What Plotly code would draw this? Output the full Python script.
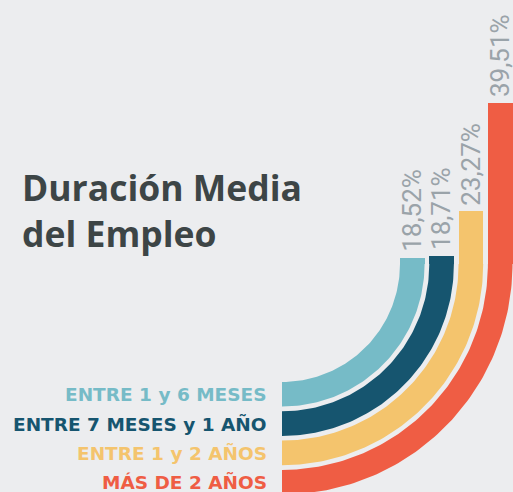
import numpy as np
import plotly.graph_objects as go

# ---- data ----
categories = ["ENTRE 1 y 6 MESES", "ENTRE 7 MESES y 1 AÑO", "ENTRE 1 y 2 AÑOS", "MÁS DE 2 AÑOS"]
values = [18.52, 18.71, 23.27, 39.51]
value_labels = ["18,52%", "18,71%", "23,27%", "39,51%"]
title_lines = ["Duración Media", "del Empleo"]

# ---- style / geometry ----
colors = ["#76BBC7", "#16556F", "#F4C46D", "#EF5D44"]
BG = "#ECEDEF"
W, H = 513, 492
CX, CY = 282.0, 264.0        # centre of the quarter arcs (pixels)
R0, STEP, BW = 118.0, 29.3, 24.6
BASE = 17.98                 # value at which the straight part starts
PX_PER_DECADE = 470.0        # log value axis scale
lb = np.log10(BASE)
y2_range = [lb - (H - CY) / PX_PER_DECADE, lb + CY / PX_PER_DECADE]

fig = go.Figure()

theta = np.linspace(np.pi / 2, 0, 90)  # from bottom (y down) to right
for i, (cat, col) in enumerate(zip(categories, colors)):
    r_in = R0 + STEP * i
    r_out = r_in + BW
    xs = np.concatenate([CX + r_out * np.cos(theta), CX + r_in * np.cos(theta[::-1])])
    ys = np.concatenate([CY + r_out * np.sin(theta), CY + r_in * np.sin(theta[::-1])])
    fig.add_trace(go.Scatter(x=xs, y=ys, mode="lines", fill="toself", fillcolor=col,
                             line=dict(width=0, color=col), hoverinfo="skip",
                             showlegend=False, xaxis="x", yaxis="y"))

# straight vertical parts as bars on a value axis
bar_x = [CX + R0 + STEP * i + BW / 2 for i in range(len(values))]
b0 = BASE * 0.998
fig.add_trace(go.Bar(x=bar_x, y=[v - b0 for v in values], base=b0,
                     width=BW, marker=dict(color=colors, line=dict(width=0)),
                     xaxis="x", yaxis="y2", showlegend=False, hoverinfo="skip"))

# value labels
for xv, v, lab in zip(bar_x, values, value_labels):
    fig.add_annotation(x=xv, y=np.log10(v), xref="x", yref="y2", text=lab, textangle=-90,
                       showarrow=False, xanchor="center", yanchor="bottom", yshift=4,
                       font=dict(family="Roboto", size=26, color="#9AA3A9"))

# category labels beside the arc ends
for i, (cat, col) in enumerate(zip(categories, colors)):
    yc = CY + R0 + STEP * i + BW / 2
    fig.add_annotation(x=CX - 13, y=yc, xref="x", yref="y", text=cat, showarrow=False,
                       xanchor="right", yanchor="middle",
                       font=dict(family="DejaVu Sans", size=18.5, color=col, weight=700))

# title
fig.add_annotation(x=20, y=210, xref="x", yref="y", text="<br>".join(title_lines),
                   showarrow=False, xanchor="left", yanchor="middle", align="left",
                   font=dict(family="Open Sans", size=35.5, color="#3D4546", weight=700))

fig.update_layout(
    width=W, height=H, margin=dict(l=0, r=0, t=0, b=0),
    paper_bgcolor=BG, plot_bgcolor=BG, showlegend=False, bargap=0,
    xaxis=dict(range=[0, W], visible=False, fixedrange=True),
    yaxis=dict(range=[H, 0], visible=False, fixedrange=True),
    yaxis2=dict(type="log", range=y2_range, visible=False, overlaying="y", fixedrange=True),
)

fig.write_html("out.html", config={"displayModeBar": False},
               post_script="document.body.style.margin='0';document.body.style.background='%s';" % BG)
